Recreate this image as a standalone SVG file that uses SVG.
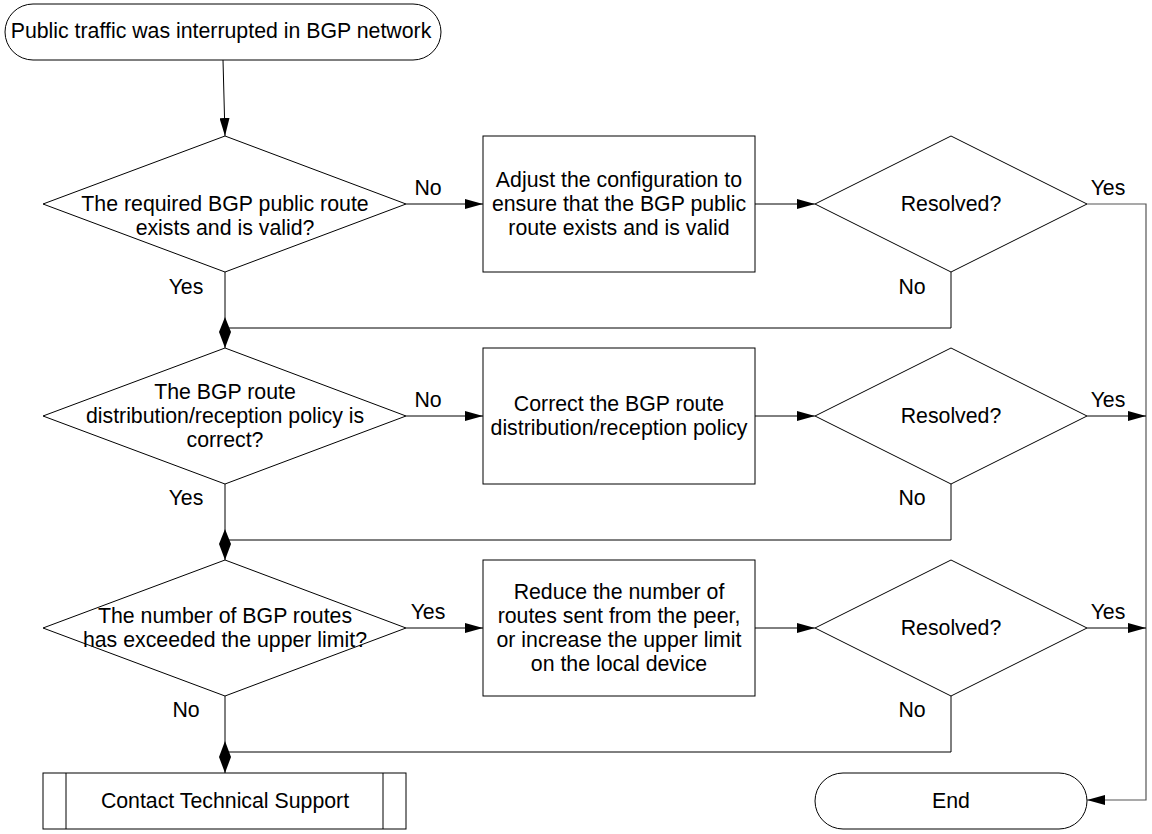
<svg xmlns="http://www.w3.org/2000/svg" width="1152" height="834" viewBox="0 0 1152 834">
<style>
.s{fill:#fff;stroke:#000;stroke-width:1}
.t{font-family:"Liberation Sans",Arial,sans-serif;font-size:21.3px;fill:#000;text-anchor:middle;dominant-baseline:central}
.l{fill:none;stroke:#000;stroke-width:1}
.g{fill:none;stroke:#555;stroke-width:1.2}
.j{fill:#000;stroke:none}
</style>
<defs>
<marker id="a" viewBox="0 0 18 10" refX="18" refY="5" markerWidth="18" markerHeight="10" markerUnits="userSpaceOnUse" orient="auto"><path d="M0,0 L18,5 L0,10 Z" fill="#000"/></marker>
</defs>
<rect width="1152" height="834" fill="#fff"/>
<g id="connectors">
<line class="l" x1="223" y1="60" x2="225" y2="136" marker-end="url(#a)"/>
<line class="l" x1="406" y1="204" x2="483" y2="204" marker-end="url(#a)"/>
<line class="l" x1="755" y1="204" x2="815" y2="204" marker-end="url(#a)"/>
<polyline class="g" points="1087,204 1146,204 1146,800 1087,800" marker-end="url(#a)"/>
<polyline class="l" points="951,272 951,328 225,328"/>
<line class="l" x1="225" y1="272" x2="225" y2="348"/>
<polygon class="j" points="225,317 231,332 225,348 219,332"/>
<line class="l" x1="406" y1="416" x2="483" y2="416" marker-end="url(#a)"/>
<line class="l" x1="755" y1="416" x2="815" y2="416" marker-end="url(#a)"/>
<line class="l" x1="1087" y1="416" x2="1146" y2="416" marker-end="url(#a)"/>
<polyline class="l" points="951,484 951,540 225,540"/>
<line class="l" x1="225" y1="484" x2="225" y2="560"/>
<polygon class="j" points="225,529 231,544 225,560 219,544"/>
<line class="l" x1="406" y1="628" x2="483" y2="628" marker-end="url(#a)"/>
<line class="l" x1="755" y1="628" x2="815" y2="628" marker-end="url(#a)"/>
<line class="l" x1="1087" y1="628" x2="1146" y2="628" marker-end="url(#a)"/>
<polyline class="l" points="951,696 951,752 225,752"/>
<line class="l" x1="225" y1="696" x2="225" y2="773"/>
<polygon class="j" points="225,741 231,757 225,773 219,757"/>
<text class="t" x="428" y="188">No</text>
<text class="t" x="1108" y="188">Yes</text>
<text class="t" x="186" y="287">Yes</text>
<text class="t" x="912" y="287">No</text>
<text class="t" x="428" y="400">No</text>
<text class="t" x="1108" y="400">Yes</text>
<text class="t" x="186" y="498">Yes</text>
<text class="t" x="912" y="498">No</text>
<text class="t" x="428" y="612">Yes</text>
<text class="t" x="1108" y="612">Yes</text>
<text class="t" x="186" y="710">No</text>
<text class="t" x="912" y="710">No</text>
</g>
<g id="start">
<rect class="s" x="5" y="4" width="436" height="56" rx="28" ry="28"/>
<text class="t" x="221" y="31">Public traffic was interrupted in BGP network</text>
</g>
<g id="d1">
<polygon class="s" points="225,136 406,204 225,272 43,204"/>
<text class="t" x="225" y="204">The required BGP public route</text>
<text class="t" x="225" y="228">exists and is valid?</text>
</g>
<g id="b1">
<rect class="s" x="483" y="136" width="272" height="136"/>
<text class="t" x="619" y="180">Adjust the configuration to</text>
<text class="t" x="619" y="204">ensure that the BGP public</text>
<text class="t" x="619" y="228">route exists and is valid</text>
</g>
<g id="r1">
<polygon class="s" points="951,136 1087,204 951,272 815,204"/>
<text class="t" x="951" y="204">Resolved?</text>
</g>
<g id="d2">
<polygon class="s" points="225,348 406,416 225,484 43,416"/>
<text class="t" x="225" y="392">The BGP route</text>
<text class="t" x="225" y="416">distribution/reception policy is</text>
<text class="t" x="225" y="440">correct?</text>
</g>
<g id="b2">
<rect class="s" x="483" y="348" width="272" height="136"/>
<text class="t" x="619" y="404">Correct the BGP route</text>
<text class="t" x="619" y="428">distribution/reception policy</text>
</g>
<g id="r2">
<polygon class="s" points="951,348 1087,416 951,484 815,416"/>
<text class="t" x="951" y="416">Resolved?</text>
</g>
<g id="d3">
<polygon class="s" points="225,560 406,628 225,696 43,628"/>
<text class="t" x="225" y="616">The number of BGP routes</text>
<text class="t" x="225" y="640">has exceeded the upper limit?</text>
</g>
<g id="b3">
<rect class="s" x="483" y="560" width="272" height="136"/>
<text class="t" x="619" y="592">Reduce the number of</text>
<text class="t" x="619" y="616">routes sent from the peer,</text>
<text class="t" x="619" y="640">or increase the upper limit</text>
<text class="t" x="619" y="664">on the local device</text>
</g>
<g id="r3">
<polygon class="s" points="951,560 1087,628 951,696 815,628"/>
<text class="t" x="951" y="628">Resolved?</text>
</g>
<g id="support">
<rect class="s" x="43" y="773" width="363" height="56"/>
<line class="l" x1="66" y1="773" x2="66" y2="829"/>
<line class="l" x1="383" y1="773" x2="383" y2="829"/>
<text class="t" x="225" y="801">Contact Technical Support</text>
</g>
<g id="end">
<rect class="s" x="815" y="773" width="272" height="56" rx="28" ry="28"/>
<text class="t" x="951" y="801">End</text>
</g>
</svg>
